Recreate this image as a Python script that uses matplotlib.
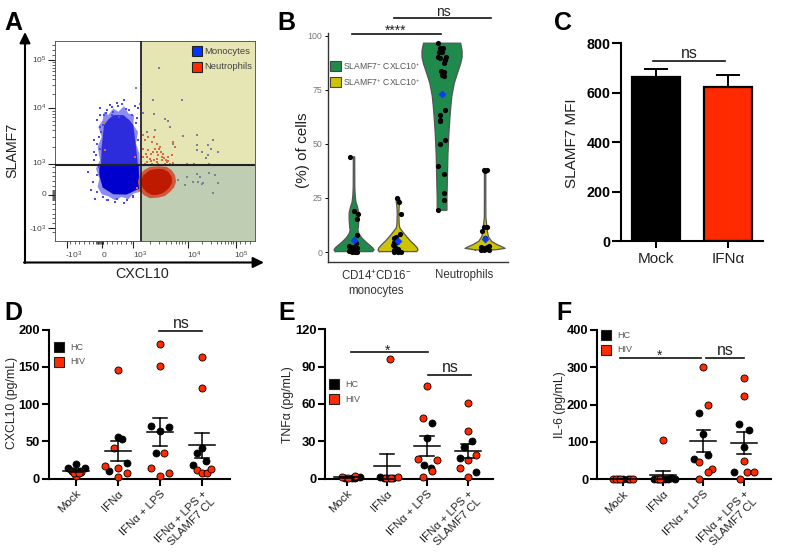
import numpy as np
import matplotlib
matplotlib.use('Agg')
import matplotlib.pyplot as plt
from matplotlib.patches import Polygon, Rectangle

plt.rcParams['font.family'] = ['Liberation Sans', 'DejaVu Sans']
plt.rcParams['mathtext.default'] = 'regular'

W, H = 800, 556
RED = '#FF2A00'
GREEN = '#1F8A4C'
YELLOW = '#CCC400'

# --- Panel A: dense clouds are read as outlines, sparse events one by one
# (units = position on the biexponential display scale)
a_x_major = [200, 305, 400, 563, 707]
a_y_major = [180, 325, 490, 585, 683]
mono_outer = [(312, 335), (325, 345), (340, 325), (355, 335), (372, 318), (385, 340), (402, 345), (400, 375),
              (414, 395), (408, 430), (418, 460), (420, 495), (420, 575), (400, 580), (385, 597), (365, 590),
              (345, 600), (325, 588), (305, 582), (293, 560), (298, 535), (288, 505), (300, 480), (293, 440),
              (305, 410), (295, 380), (308, 360)]
mono_mid = [(312, 375), (325, 358), (340, 345), (370, 345), (388, 360), (400, 375), (408, 440), (414, 495),
            (303, 495), (305, 440)]
mono_core = [(298, 495), (416, 495), (418, 565), (380, 583), (340, 582), (308, 562), (298, 525)]
neut_outer = [(420, 520), (435, 508), (450, 500), (475, 498), (500, 500), (515, 510), (525, 525), (528, 545),
              (522, 562), (510, 575), (495, 587), (475, 592), (450, 594), (432, 585), (418, 570), (414, 545)]
neut_core = [(430, 525), (450, 510), (472, 506), (490, 507), (505, 515), (515, 530), (516, 548), (506, 565),
             (490, 578), (472, 584), (455, 584), (438, 575), (428, 562), (422, 545)]
mono_dots_x = [272, 265, 285, 300, 330, 372, 395, 415, 290, 282, 300, 372, 345, 400, 320, 292, 312, 355, 340, 388,
               283, 278, 292, 410, 405, 365, 318, 296, 304, 300, 288, 296, 310, 325, 350, 382, 398, 408, 415, 290,
               283, 300, 312, 335, 358, 378, 352, 336, 322, 308]
mono_dots_y = [570, 515, 595, 325, 315, 300, 345, 325, 430, 480, 380, 608, 605, 590, 598, 360, 365, 318, 335, 330,
               455, 545, 575, 355, 318, 312, 340, 410, 395, 345, 465, 500, 590, 600, 595, 600, 588, 370, 420, 525,
               420, 445, 345, 322, 350, 328, 308, 345, 330, 375]
neut_dots_x = [435, 455, 470, 480, 445, 460, 475, 490, 505, 515, 470, 485, 500, 440, 430, 520, 525, 465, 450, 435,
               455, 475, 495, 510, 428, 445, 462, 482, 498, 412, 418, 312, 405, 315, 430, 452, 472, 492, 440, 462,
               485, 505, 520, 452, 470, 498, 438, 478]
neut_dots_y = [420, 425, 430, 440, 450, 455, 465, 460, 470, 465, 475, 480, 485, 470, 445, 425, 440, 445, 475, 490,
               490, 490, 490, 490, 405, 410, 412, 455, 478, 563, 570, 365, 470, 450, 470, 482, 455, 472, 485, 480,
               470, 482, 488, 462, 485, 478, 460, 445]
other_dots_x = [477, 409, 458, 545, 420, 428, 462, 495, 505, 510, 465, 440, 550, 590, 640, 625, 590, 520, 632, 655,
                605, 590, 625, 618, 560, 582, 628, 590, 628, 645, 535, 560, 580, 600, 595, 610, 655, 555, 605, 640]
other_dots_y = [205, 264, 300, 300, 312, 340, 343, 358, 362, 380, 390, 395, 408, 405, 420, 435, 435, 430, 447, 455,
                455, 450, 465, 472, 492, 492, 492, 520, 518, 525, 540, 530, 545, 530, 545, 548, 547, 555, 550, 578]

# --- Panel B: violin outlines (level, half width) and points
v1_y = [0.2, 1, 2, 3, 4.5, 6.5, 8.5, 10, 12, 15, 18, 21, 23, 26, 30, 44]
v1_w = [.19, .205, .19, .165, .125, .08, .05, .04, .045, .05, .05, .035, .02, .012, .008, .007]
v2_y = [0.2, 1, 2, 3.5, 5, 7, 9, 11, 12.5, 15, 18, 21, 24, 25]
v2_w = [.19, .205, .195, .165, .13, .09, .055, .02, .012, .01, .008, .012, .02, .015]
v3_y = [19.3, 25, 35, 45, 55, 65, 72, 78, 83, 87, 90, 93, 96.5]
v3_w = [.05, .05, .055, .06, .07, .085, .1, .125, .16, .19, .205, .205, .19]
v4_y = [1, 1.7, 2.5, 3.5, 5, 7, 9, 11, 13, 16, 25, 38]
v4_w = [.1, .205, .17, .12, .065, .035, .025, .02, .015, .008, .007, .007]
v_centers = [0.775, 1.225, 1.675, 2.115]
v_colors = [GREEN, YELLOW, GREEN, YELLOW]
v_means = [5.5, 5, 73, 5.8]
p1_x = [-.04, 0, .044, .034, .034, .02, -.048, -.014, -.04, 0, .034, -.048, -.024, .01, .034, -.014]
p1_y = [44.1, 19.1, 17.4, 15.1, 7.7, 4, 2.8, 2.5, 1.7, 1.2, 1.7, .6, .2, .2, .2, .9]
p2_x = [-.01, .007, .03, .017, -.017, -.044, -.037, -.01, -.05, -.027, 0, -.037, -.044, -.003, .03, -.017]
p2_y = [24.8, 23, 17.6, 8.2, 7.1, 6.3, 4.8, 4.8, 3.2, 2.2, 1.2, .9, .2, .2, .2, .6]
p3_x = [-.04, -.017, .007, -.034, 0, -.04, -.017, .04, .034, .017, -.007, .024, 0, .024, .034, -.024, -.024, -.02,
        .034, -.024, -.037, .02, .017, .02, -.04]
p3_y = [96.8, 94.1, 94.1, 92.6, 92.6, 90.3, 89.5, 90.3, 88.8, 87.5, 83.7, 83.4, 81.8, 81.4, 65.6, 63.3, 61, 60.4,
        51.8, 49.8, 39.9, 36, 27.1, 24, 19.4]
p4_x = [-.01, .017, 0, -.01, .017, -.027, 0, -.044, -.017, .017, .044, -.044, -.01, .017, .037]
p4_y = [37.9, 37.9, 37.6, 11.7, 11.7, 9.7, 6.3, 2.5, 1.7, 2.5, 2.8, .9, .9, 1.2, .9]

# --- Panel C
c_labels = ['Mock', 'IFNα']
c_values = [665, 625]
c_errors = [33, 45]

# --- Panels D, E, F
groups = ['Mock', 'IFNα', 'IFNα + LPS', 'IFNα + LPS +\nSLAMF7 CL']

d_hc_x = [-.2, 0, .22, -.1, .1, 1, 1.1, 1.21, .79, 1.79, 2.21, 2, 1.9, 3, 2.89, 3.1, 2.78]
d_hc_y = [14, 20, 14, 10, 10, 55.5, 53, 21.5, 11, 71, 69, 63.5, 35, 41.5, 34.5, 23.7, 19]
d_hiv_x = [-.1, 0, .13, -.05, .08, 1, .9, .68, 1, 1, 1.21, 2, 2, 2.1, 1.79, 2.21, 2, 3, 3, 2.89, 3, 3.12, 3.22]
d_hiv_y = [11, 3, 9, 7, 7, 146, 41, 16.5, 15, 2, 8, 181, 151, 34, 15, 7, 3.5, 163, 122, 12, 7, 8, 12.5]
d_mean = [11, 37, 63, 45]
d_low = [9, 24, 44, 27.5]
d_high = [13, 51, 82, 62]

e_hc_x = [-.04, .14, .33, .21, .83, .93, 1.15, 1.04, 2.12, 2, 1.92, 2.08, 3.12, 2.9, 2.8, 3.21]
e_hc_y = [.5, .5, 1, .5, 1.6, .5, .3, .3, 44.7, 33, 10.7, 8.8, 30, 25.7, 16.6, 5.6]
e_hiv_x = [-.12, .21, .04, 1.07, 1.27, .98, 1.11, 2, 1.89, 1.76, 2.25, 2.12, 1.89, 3, 3, 3.21, 3, 2.8, 3]
e_hiv_y = [1.3, 2.4, .8, 96, 1.3, .3, .3, 74.3, 49, 16, 14.7, 6.4, 1, 60.7, 38.5, 19, 15.2, 8.3, 1.6]
e_mean = [1, 10, 26, 22.5]
e_low = [.6, 0, 18.5, 17]
e_high = [1.4, 20, 34, 28]

f_hc_x = [-.11, 0, .12, .77, .85, .96, 1.04, 1.12, 1.21, 1.29, 1.89, 2, 2.12, 1.78, 2.89, 3.12, 3, 2.75]
f_hc_y = [0, 0, 0, 1, 0, 2, 1, 0, 3, 1, 178, 121, 64, 55, 147, 132, 86, 19]
f_hiv_x = [-.25, -.17, -.07, .18, .26, 1, .88, .92, 2, 2.12, 1.89, 2.22, 2.12, 1.89, 3, 3, 3, 3.09, 3.26, 2.92]
f_hiv_y = [0, 0, 0, 0, 0, 106, 0, 1, 300, 200, 45, 27.6, 19, 2, 271, 222, 49, 19, 20.5, 2]
f_mean = [0, 11, 102, 98]
f_low = [0, 0, 72, 68]
f_high = [0, 21, 133, 127]


def px_axes(left, top, right, bottom):
    return fig.add_axes([left / W, 1 - bottom / H, (right - left) / W, (bottom - top) / H])


def prism_axes(ax, ymax, yticks, xlim, ylabel_size=10):
    ax.set_xlim(*xlim)
    ax.set_ylim(0, ymax)
    ax.patch.set_alpha(0)
    for side in ['top', 'right']:
        ax.spines[side].set_visible(False)
    for side in ['left', 'bottom']:
        ax.spines[side].set_linewidth(1.5)
    ax.set_yticks(yticks)
    ax.tick_params(width=1.5, length=5, pad=1.5)
    for lab in ax.get_yticklabels():
        lab.set_fontweight('bold')
        lab.set_fontsize(ylabel_size)


def dose_panel(box, xlim, ymax, yticks, hc_x, hc_y, hiv_x, hiv_y, mean, low, high):
    ax = px_axes(*box)
    prism_axes(ax, ymax, yticks, xlim, 9.3)
    ax.scatter(hc_x, hc_y, s=26, c='black', edgecolors='black', linewidths=.5, clip_on=False, zorder=3)
    ax.scatter(hiv_x, hiv_y, s=26, c=RED, edgecolors='black', linewidths=.6, clip_on=False, zorder=4)
    for i in range(4):
        ax.plot([i - .32, i + .32], [mean[i]] * 2, color='black', lw=1.1, zorder=5, clip_on=False)
        ax.plot([i, i], [low[i], high[i]], color='black', lw=1.1, zorder=5, clip_on=False)
        for v in (low[i], high[i]):
            ax.plot([i - .17, i + .17], [v, v], color='black', lw=1.1, zorder=5, clip_on=False)
    ax.set_xticks(range(4))
    ax.set_xticklabels(groups, rotation=45, ha='right', rotation_mode='anchor', fontsize=8.2,
                       color='#222222', linespacing=1.15)
    ax.tick_params(axis='x', pad=2)
    return ax


fig = plt.figure(figsize=(W / 100, H / 100), dpi=100)

# Panel A
ax = px_axes(55, 41, 255, 241)
ax.set_xlim(165, 765)
ax.set_ylim(722, 123)
ax.add_patch(Rectangle((423, 123), 342, 371, fc='#E6E6B4', ec='none', zorder=0))
ax.add_patch(Rectangle((423, 494), 342, 228, fc='#BFCDB3', ec='none', zorder=0))
ax.add_patch(Polygon(mono_outer, fc='#8C8CF2', ec='none', zorder=1))
ax.add_patch(Polygon(mono_mid, fc='#2C2CDC', ec='none', zorder=1.1))
ax.add_patch(Polygon(mono_core, fc='#0000CE', ec='none', zorder=1.2))
ax.add_patch(Polygon(neut_outer, fc='#D2583A', ec='none', zorder=1.3))
ax.add_patch(Polygon(neut_core, fc='#BE1A00', ec='none', zorder=1.4))
ax.scatter(mono_dots_x, mono_dots_y, s=1.1, c='#4A4AF0', marker='s', linewidths=0, zorder=2)
ax.scatter(neut_dots_x, neut_dots_y, s=1.2, c='#DB6A3C', marker='s', linewidths=0, zorder=2)
ax.scatter(other_dots_x, other_dots_y, s=.9, c='#7A80A0', marker='s', linewidths=0, zorder=2)
ax.axvline(423, color='#222222', lw=1.3, zorder=3)
ax.axhline(494, color='#222222', lw=1.5, zorder=3)
for s in ax.spines.values():
    s.set_linewidth(.6)
    s.set_color('#444444')
x_minor = []
y_minor = []
for k in range(2, 10):
    for lo, hi in ((400, 563), (563, 707)):
        x_minor.append(lo + (hi - lo) * np.log10(k))
    for lo, hi in ((490, 325), (325, 180)):
        y_minor.append(lo + (hi - lo) * np.log10(k))
x_minor += list(range(210, 400, 14)) + list(range(288, 312, 3)) + [720, 735, 750]
y_minor += list(range(500, 700, 14)) + list(range(573, 600, 3)) + [135, 150, 165]
ax.set_xticks(a_x_major, [''] * 5)
ax.set_yticks(a_y_major, [''] * 5)
ax.set_xticks(x_minor, minor=True)
ax.set_yticks(y_minor, minor=True)
ax.tick_params(which='major', length=5, width=.8, color='#222222')
ax.tick_params(which='minor', length=2.5, width=.5, color='#222222')
xt_text = ['-10$^3$', '0', '10$^3$', '10$^4$', '10$^5$']
for pos, lab in zip([222, 312, 420, 583, 725], xt_text):
    ax.text(pos, 765, lab, ha='center', va='center', fontsize=6, color='#444444', clip_on=False)
yt_text = ['10$^5$', '10$^4$', '10$^3$', '0', '-10$^3$']
for pos, lab in zip([180, 325, 490, 583, 687], yt_text):
    ax.text(138, pos, lab, ha='right', va='center', fontsize=6, color='#444444', clip_on=False)
ax.add_patch(Rectangle((575, 137), 30, 31, fc='#0033FF', ec='#222222', lw=.8, zorder=5))
ax.add_patch(Rectangle((575, 185), 30, 31, fc=RED, ec='#222222', lw=.8, zorder=5))
ax.text(613, 153, 'Monocytes', fontsize=6.8, color='#444444', va='center', zorder=5)
ax.text(613, 198, 'Neutrophils', fontsize=6.8, color='#444444', va='center', zorder=5)

# Panel B
ax = px_axes(328, 33, 508, 262)
ax.set_xlim(0.509, 2.349)
ax.set_ylim(-4.6, 101.2)
ax.patch.set_alpha(0)
for side in ['top', 'right']:
    ax.spines[side].set_visible(False)
for side in ['left', 'bottom']:
    ax.spines[side].set_color('#333333')
    ax.spines[side].set_linewidth(1)
violins = [(v1_y, v1_w), (v2_y, v2_w), (v3_y, v3_w), (v4_y, v4_w)]
points = [(p1_x, p1_y), (p2_x, p2_y), (p3_x, p3_y), (p4_x, p4_y)]
for c, col, (vy, vw), (px, py), m in zip(v_centers, v_colors, violins, points, v_means):
    vw = np.array(vw)
    ax.fill_betweenx(vy, c - vw, c + vw, color=col, ec='none', zorder=1)
    ax.plot(np.r_[c - vw, (c + vw)[::-1], c - vw[0]], np.r_[vy, vy[::-1], vy[0]], color='#555555', lw=.9, zorder=2)
    ax.scatter(c + np.array(px), py, s=14, c='black', linewidths=0, zorder=3)
    ax.scatter([c], [m], s=16, c='#0A3CFF', marker='D', linewidths=0, zorder=4)
ax.set_yticks([0, 25, 50, 75, 100])
ax.set_xticks([1, 1.9], ['CD14$^{+}$CD16$^{-}$\nmonocytes', 'Neutrophils'], fontsize=8.3, color='#333333')
ax.tick_params(axis='y', labelsize=6.3, labelcolor='#777777', length=2.5, width=.7, pad=1.5)
ax.tick_params(axis='x', length=0, pad=5)

# Panel C
ax = px_axes(620.7, 43.3, 763, 241.3)
prism_axes(ax, 800, [0, 200, 400, 600, 800], (-.49, 1.49), 10.3)
ax.errorbar([0, 1], c_values, yerr=[[0, 0], c_errors], fmt='none', ecolor='black', elinewidth=1.4, capsize=8.5,
            capthick=1.4, zorder=1)
ax.bar([0, 1], c_values, width=.66, color=['black', RED], edgecolor='black', linewidth=1.6, zorder=2)
ax.set_xticks([0, 1], c_labels, fontsize=11, color='#222222')
ax.tick_params(axis='y', length=6.5, pad=1)
ax.tick_params(axis='x', pad=3)

# Panels D, E, F
dose_panel((49, 329.7, 230, 478.7), (-.643, 3.667), 200, [0, 50, 100, 150, 200],
           d_hc_x, d_hc_y, d_hiv_x, d_hiv_y, d_mean, d_low, d_high)
dose_panel((325.3, 329.3, 493, 478.7), (-.53, 3.63), 120, [0, 30, 60, 90, 120],
           e_hc_x, e_hc_y, e_hiv_x, e_hiv_y, e_mean, e_low, e_high)
dose_panel((597.3, 329.7, 770.7, 479.3), (-.63, 3.67), 400, [0, 100, 200, 300, 400],
           f_hc_x, f_hc_y, f_hiv_x, f_hiv_y, f_mean, f_low, f_high)

# Overlay in figure pixels for arrows, letters, brackets and small legends
ov = fig.add_axes([0, 0, 1, 1], zorder=10)
ov.set_xlim(0, W)
ov.set_ylim(H, 0)
ov.axis('off')

for xy, xytext in (((25, 32), (25, 263)), ((264, 262.5), (24, 262.5))):
    ov.annotate('', xy=xy, xytext=xytext,
                arrowprops=dict(arrowstyle='-|>,head_width=.32,head_length=.65', color='black', lw=1.5,
                                shrinkA=0, shrinkB=0))

for let, x, y in (('A', 4, 30), ('B', 277, 30), ('C', 554, 30), ('D', 4, 320), ('E', 278, 320), ('F', 556, 320)):
    ov.text(x, y, let, fontsize=18, fontweight='bold', color='black', va='baseline')

for x0, x1, y in ((352, 441, 34), (394, 491, 18), (653, 725, 61), (159, 202, 330.7), (351, 428, 352),
                  (428, 471, 375), (620, 700.5, 358), (706, 743.5, 358)):
    ov.plot([x0, x1], [y, y], color='#111111', lw=1.2)

for x, y, s, fs in ((443, 15.5, 'ns', 10), (689, 58, 'ns', 11.5), (181, 328, 'ns', 11.5), (450, 372, 'ns', 11.5),
                    (725, 355, 'ns', 11.5), (396, 35, '****', 10), (388, 355, '*', 10), (660, 360, '*', 10)):
    ov.text(x, y, s, fontsize=fs, ha='center', va='baseline', color='#222222')

for x, y, col, txt in ((330, 61, GREEN, 'SLAMF7$^{-}$ CXLC10$^{+}$'), (330, 77, YELLOW, 'SLAMF7$^{+}$ CXLC10$^{+}$')):
    ov.add_patch(Rectangle((x, y), 11, 10, fc=col, ec='#444444', lw=.8))
    ov.text(343, y + 5, txt, fontsize=6.2, va='center', color='#555555')

for x, y, tx in ((54, 342, 70), (329, 379, 345.5), (601, 330, 617)):
    ov.add_patch(Rectangle((x, y), 10, 10, fc='black', ec='#222222', lw=.8))
    ov.add_patch(Rectangle((x, y + 14.7), 10, 10, fc=RED, ec='#222222', lw=.8))
    ov.text(tx, y + 5.5, 'HC', fontsize=6.5, va='center', color='#555555')
    ov.text(tx, y + 20, 'HIV', fontsize=6.5, va='center', color='#555555')

for x, y, s, fs in ((12, 150, 'SLAMF7', 10.3), (303, 150, '(%) of cells', 11), (572, 143, 'SLAMF7 MFI', 11),
                    (12, 403, 'CXCL10 (pg/mL)', 8.8), (288, 405, 'TNFα (pg/mL)', 8.8), (560, 405, 'IL-6 (pg/mL)', 8.8)):
    ov.text(x, y, s, fontsize=fs, rotation=90, ha='center', va='center', color='#222222')
ov.text(142, 274, 'CXCL10', fontsize=10.3, ha='center', va='center', color='#222222')

fig.savefig('out.png', dpi=100)
